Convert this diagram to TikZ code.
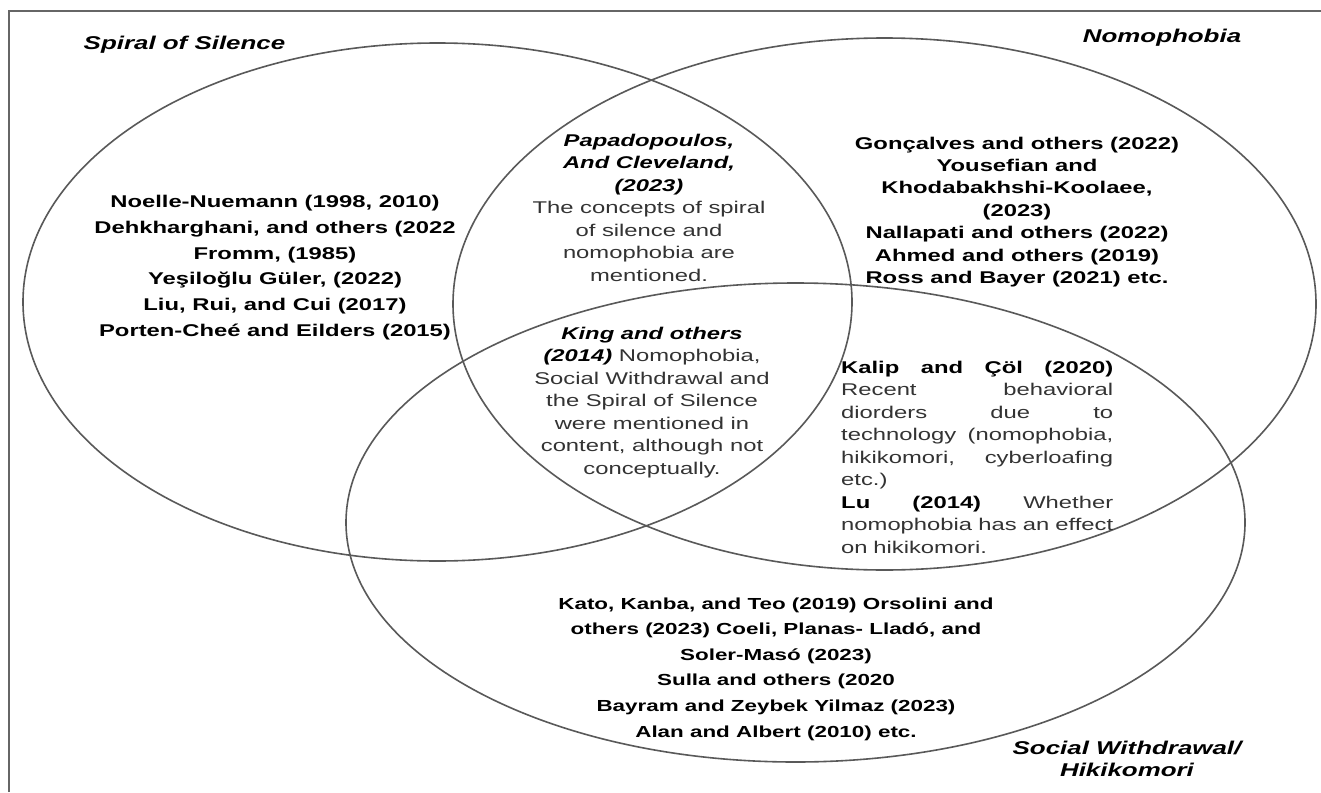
\documentclass[tikz,border=0pt]{standalone}
\usepackage{fontspec}
\setmainfont{Liberation Sans}[FakeStretch=1.4]
\newcommand{\au}[1]{{\color{black}\bfseries\itshape #1}}
\newcommand{\spreadline}[1]{\makebox[272pt][l]{#1}}
\tikzset{
  venn/.style={draw=black!65, line width=1.6pt},
  frameline/.style={draw=black!60, line width=1.4pt},
  settitle/.style={font=\fontsize{18.5}{22}\selectfont\bfseries\itshape, align=center, inner sep=0pt},
  refs/.style={font=\fontsize{17}{22.5}\selectfont\bfseries, align=center, inner sep=0pt},
  note/.style={font=\fontsize{17}{22.5}\selectfont, text=black!80, align=center, inner sep=0pt},
}
\begin{document}
\begin{tikzpicture}[x=1pt,y=-1pt]
\useasboundingbox (0,0) rectangle (1321,792);
\fill[white] (0,0) rectangle (1321,792);
% frame
\coordinate (fa) at (9,792);
\coordinate (fb) at (9,11);
\coordinate (fc) at (1321,11);
\draw[frameline] (fa) -- (fb) -- (fc);
% ellipses
\draw[venn] (437.5,302) ellipse [x radius=414.5pt, y radius=259pt];
\draw[venn] (884.5,304) ellipse [x radius=431.5pt, y radius=266pt];
\draw[venn] (795.5,522.5) ellipse [x radius=449.5pt, y radius=239.5pt];
% titles
\node[settitle] (tsos) at (184.5,45) {Spiral of Silence};
\node[settitle] (tnom) at (1162,38) {Nomophobia};
\node[settitle] (tsw) at (1127,759) {Social Withdrawal/\\Hikikomori};
% text blocks
\node[refs, font=\fontsize{17}{25.7}\selectfont\bfseries] (left) at (275,267.5) {Noelle-Nuemann (1998, 2010)\\Dehkharghani, and others (2022\\Fromm, (1985)\\Yeşiloğlu Güler, (2022)\\Liu, Rui, and Cui (2017)\\Porten-Cheé and Eilders (2015)};
\node[refs, font=\fontsize{17}{22.4}\selectfont\bfseries] (right) at (1017,212) {Gonçalves and others (2022)\\Yousefian and\\Khodabakhshi-Koolaee,\\(2023)\\Nallapati and others (2022)\\Ahmed and others (2019)\\Ross and Bayer (2021) etc.};
\node[note] (papa) at (649,207.5) {\au{Papadopoulos,}\\\au{And Cleveland,}\\\au{(2023)}\\The concepts of spiral\\of silence and\\nomophobia are\\mentioned.};
\node[note] (king) at (652,402.5) {\au{King and others}\\\au{(2014)} Nomophobia,\\Social Withdrawal and\\the Spiral of Silence\\were mentioned in\\content, although not\\conceptually.};
\node[note, align=left, text width=272pt, anchor=west] (kalip) at (841,457) {%
\spreadline{\au{\upshape Kalip}\hfill\au{\upshape and}\hfill\au{\upshape Çöl}\hfill\au{\upshape (2020)}}\\
\spreadline{Recent\hfill behavioral}\\
\spreadline{diorders\hfill due\hfill to}\\
\spreadline{technology\hfill (nomophobia,}\\
\spreadline{hikikomori,\hfill cyberloafing}\\
etc.)\\
\spreadline{\au{\upshape Lu}\hfill\au{\upshape (2014)}\hfill Whether}\\
\spreadline{nomophobia\hfill has\hfill an\hfill effect}\\
on hikikomori.};
\node[refs, font=\fontsize{16}{25.6}\selectfont\bfseries] (bottom) at (776,669) {Kato, Kanba, and Teo (2019) Orsolini and\\others (2023) Coeli, Planas- Lladó, and\\Soler-Masó (2023)\\Sulla and others (2020\\Bayram and Zeybek Yilmaz (2023)\\Alan and Albert (2010) etc.};
\end{tikzpicture}
\end{document}
